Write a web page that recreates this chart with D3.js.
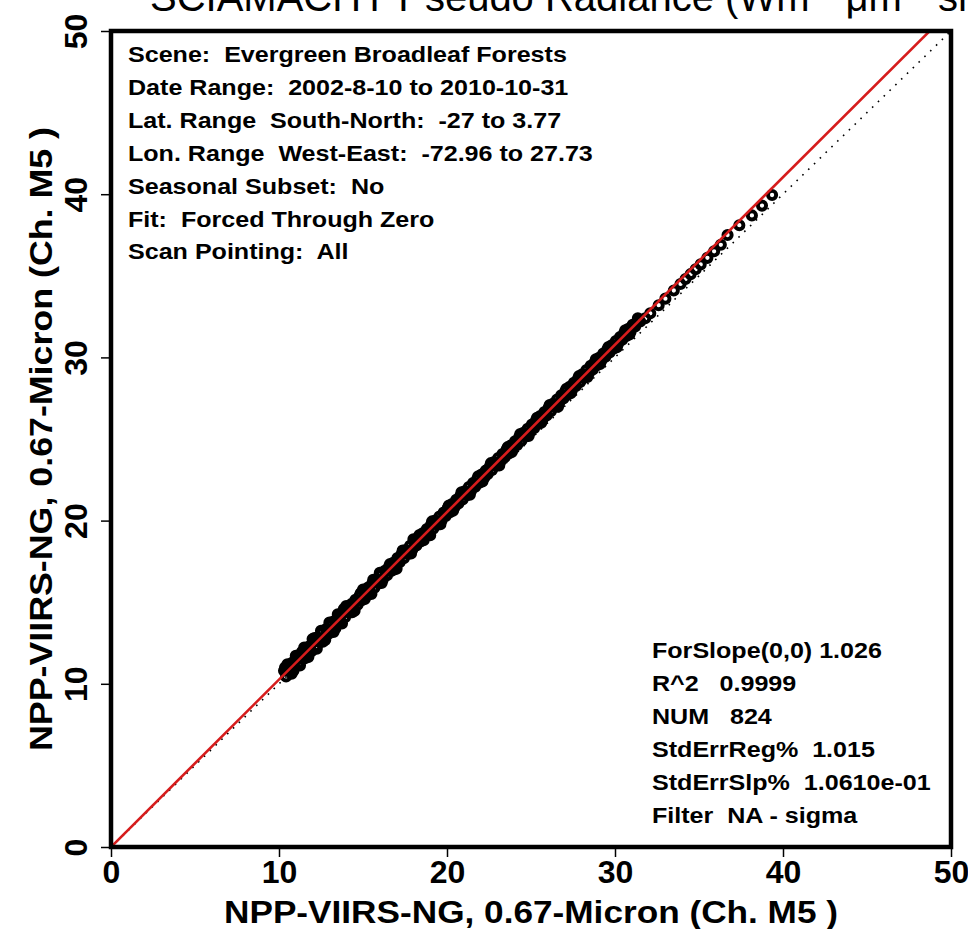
<!DOCTYPE html>
<html>
<head>
<meta charset="utf-8">
<script src="https://cdn.jsdelivr.net/npm/d3@7"></script>
<style>
  html, body { margin: 0; padding: 0; background: #fff; }
  svg { display: block; }
  text { font-family: "Liberation Sans", Arial, Helvetica, sans-serif; fill: #000; }
</style>
</head>
<body>
<div id="chart"></div>
<script>
// ---------------- data ----------------
const xTickValues = [0, 10, 20, 30, 40, 50];
const yTickValues = [0, 10, 20, 30, 40, 50];
const axisDomain = [0, 50];
const fitSlope = 1.026;
const xAxisTitle = "NPP-VIIRS-NG, 0.67-Micron (Ch.  M5 )";
const yAxisTitle = "NPP-VIIRS-NG, 0.67-Micron (Ch.  M5 )";
const infoLines = [
  "Scene:  Evergreen Broadleaf Forests",
  "Date Range:  2002-8-10 to 2010-10-31",
  "Lat. Range  South-North:  -27 to 3.77",
  "Lon. Range  West-East:  -72.96 to 27.73",
  "Seasonal Subset:  No",
  "Fit:  Forced Through Zero",
  "Scan Pointing:  All"
];
const statLines = [
  "ForSlope(0,0) 1.026",
  "R^2   0.9999",
  "NUM   824",
  "StdErrReg%  1.015",
  "StdErrSlp%  1.0610e-01",
  "Filter  NA - sigma"
];
// scatter points (x = reference, y = compared)
const pointsX = [
  10.30,10.42,10.55,10.68,10.80,10.93,11.05,11.18,11.30,11.43,11.55,11.68,11.80,11.93,
  12.05,12.18,12.30,12.43,12.55,12.68,12.80,12.93,13.05,13.18,13.30,13.43,13.55,13.68,
  13.80,13.93,14.05,14.18,14.30,14.43,14.55,14.68,14.80,14.93,15.05,15.18,15.30,15.43,
  15.55,15.68,15.80,15.93,16.05,16.18,16.30,16.43,16.55,16.68,16.80,16.93,17.05,17.18,
  17.30,17.43,17.55,17.68,17.80,17.93,18.05,18.18,18.30,18.43,18.55,18.68,18.80,18.93,
  19.05,19.18,19.30,19.43,19.55,19.68,19.80,19.93,20.05,20.18,20.30,20.43,20.55,20.68,
  20.80,20.93,21.05,21.18,21.30,21.43,21.55,21.68,21.80,21.93,22.05,22.18,22.30,22.43,
  22.55,22.68,22.80,22.93,23.05,23.18,23.30,23.43,23.55,23.68,23.80,23.93,24.05,24.18,
  24.30,24.43,24.55,24.68,24.80,24.93,25.05,25.18,25.30,25.43,25.55,25.68,25.80,25.93,
  26.05,26.18,26.30,26.43,26.55,26.68,26.80,26.93,27.05,27.18,27.30,27.43,27.55,27.68,
  27.80,27.93,28.05,28.18,28.30,28.43,28.55,28.68,28.80,28.93,29.05,29.18,29.30,29.43,
  29.55,29.68,29.80,29.93,30.05,30.18,30.30,30.43,30.55,30.68,30.80,30.93,31.05,31.20,
  31.35,31.50,
  10.36,10.61,10.86,11.11,11.36,11.61,11.86,12.11,12.36,12.61,12.86,13.11,13.36,13.61,
  13.86,14.11,14.36,14.61,14.86,15.11,15.36,15.61,15.86,16.11,16.36,16.61,16.86,17.11,
  17.36,17.61,17.86,18.11,18.36,18.61,18.86,19.11,19.36,19.61,19.86,20.11,20.36,20.61,
  20.86,21.11,21.36,21.61,21.86,22.11,22.36,22.61,22.86,23.11,23.36,23.61,23.86,24.11,
  24.36,24.61,24.86,25.11,25.36,25.61,25.86,26.11,26.36,26.61,26.86,27.11,27.36,27.61,
  27.86,28.11,28.36,28.61,28.86,29.11,29.36,29.61,29.86,30.11,30.36,30.61,30.86,31.11,
  31.36,
  10.50,10.75,11.00,11.25,11.50,11.75,12.00,12.25,12.50,12.75,13.00,13.25,13.50,13.75,
  14.00,14.50,15.00,15.50,16.00,17.00,18.00,19.00,
  31.80,32.10,32.60,33.00,33.50,33.90,34.20,34.50,34.80,35.10,35.50,35.90,36.30,
  36.70,37.40,38.15,38.75,39.35
];
const pointsY = [
  10.80,10.45,11.05,10.78,11.30,11.02,11.55,11.25,11.80,11.50,12.10,11.78,12.30,12.00,
  12.62,12.30,12.85,12.55,13.10,12.80,13.35,13.05,13.60,13.30,13.85,13.60,14.12,13.82,
  14.35,14.08,14.62,14.35,14.88,14.58,15.15,14.85,15.40,15.12,15.65,15.38,15.90,15.62,
  16.15,15.88,16.42,16.15,16.65,16.40,16.92,16.65,17.18,16.92,17.42,17.18,17.70,17.45,
  17.95,17.70,18.20,17.95,18.45,18.22,18.72,18.48,18.98,18.72,19.22,18.98,19.48,19.25,
  19.75,19.50,20.00,19.75,20.25,20.02,20.50,20.28,20.78,20.52,21.02,20.78,21.28,21.05,
  21.52,21.30,21.80,21.55,22.05,21.82,22.30,22.08,22.55,22.32,22.82,22.58,23.06,22.85,
  23.32,23.10,23.58,23.36,23.84,23.62,24.08,23.88,24.35,24.12,24.60,24.38,24.86,24.64,
  25.12,24.90,25.38,25.15,25.62,25.42,25.88,25.66,26.14,25.92,26.40,26.18,26.65,26.44,
  26.92,26.70,27.16,26.96,27.42,27.22,27.68,27.48,27.94,27.72,28.20,27.98,28.45,28.25,
  28.70,28.50,28.96,28.75,29.22,29.00,29.48,29.26,29.72,29.52,29.98,29.78,30.24,30.04,
  30.50,30.30,30.74,30.55,31.00,30.82,31.25,31.08,31.50,31.32,31.76,31.58,32.00,31.90,
  32.25,32.20,
  11.00,10.85,10.80,11.50,11.95,11.60,12.17,12.80,12.62,12.58,13.30,13.75,13.40,13.96,
  14.58,14.42,14.38,15.08,15.55,15.20,15.76,16.38,16.22,16.18,16.88,17.34,17.00,17.55,
  18.16,18.02,17.98,18.66,19.12,18.80,19.35,19.95,19.80,19.78,20.46,20.92,20.60,21.15,
  21.74,21.60,21.58,22.26,22.72,22.40,22.94,23.52,23.40,23.38,24.05,24.50,24.20,24.74,
  25.30,25.20,25.18,25.84,26.30,26.00,26.53,27.08,27.00,26.98,27.62,28.08,27.80,28.33,
  28.86,28.80,28.80,29.42,29.88,29.60,30.12,30.64,30.58,30.62,31.22,31.66,31.40,31.92,
  32.40,
  11.20,10.62,11.72,11.12,12.22,11.65,12.74,12.15,13.25,12.68,13.76,13.18,14.26,13.70,
  14.76,14.48,15.78,15.50,16.80,17.05,18.85,19.10,
  32.40,32.70,33.20,33.60,34.10,34.50,34.80,35.10,35.40,35.70,36.10,36.50,36.90,
  37.50,38.10,38.70,39.30,39.95
];
const points = pointsX.map((v, i) => ({ x: v, y: pointsY[i] }));

// ---------------- layout ----------------
const W = 968, H = 929;
const svg = d3.select("#chart").append("svg").attr("width", W).attr("height", H);

const x = d3.scaleLinear().domain(axisDomain).range([111, 951]);
const y = d3.scaleLinear().domain(axisDomain).range([847, 31]);

svg.append("defs").append("clipPath").attr("id", "plotclip")
  .append("rect")
  .attr("x", x(axisDomain[0])).attr("y", y(axisDomain[1]))
  .attr("width", x(axisDomain[1]) - x(axisDomain[0]))
  .attr("height", y(axisDomain[0]) - y(axisDomain[1]));

// title (mostly clipped by the top edge of the image, as in the original)
const title = svg.append("text")
  .attr("x", 150).attr("y", 11)
  .style("font-size", "40px");
title.append("tspan").text("SCIAMACHY Pseudo Radiance (Wm");
title.append("tspan").attr("dy", -14).style("font-size", "28px").text("-2");
title.append("tspan").attr("dy", 14).text(" \u03BCm");
title.append("tspan").attr("dy", -14).style("font-size", "28px").text("-1");
title.append("tspan").attr("dy", 14).text(" sr");
title.append("tspan").attr("dy", -14).style("font-size", "28px").text("-1");
title.append("tspan").attr("dy", 14).text(")");

const plot = svg.append("g").attr("clip-path", "url(#plotclip)");

// 1:1 dotted line
const line = d3.line().x(d => x(d[0])).y(d => y(d[1]));
plot.append("path")
  .datum(axisDomain.map(v => [v, v]))
  .attr("d", line)
  .attr("fill", "none")
  .attr("stroke", "#000")
  .attr("stroke-width", 1.6)
  .attr("stroke-dasharray", "1.6,6.5");

// points
plot.append("g").selectAll("circle")
  .data(points)
  .join("circle")
  .attr("cx", d => x(d.x))
  .attr("cy", d => y(d.y))
  .attr("r", 4.1)
  .attr("fill", "none")
  .attr("stroke", "#000")
  .attr("stroke-width", 3.9);

// forced-through-zero fit line
plot.append("path")
  .datum(axisDomain.map(v => [v, v * fitSlope]))
  .attr("d", line)
  .attr("fill", "none")
  .attr("stroke", "#d61c1c")
  .attr("stroke-width", 2.6);

// axes
const xAxis = svg.append("g").attr("transform", `translate(0,${y(0)})`)
  .call(d3.axisBottom(x).tickValues(xTickValues).tickSize(10).tickPadding(3).tickFormat(d3.format("d")));
xAxis.select(".domain").remove();
xAxis.selectAll(".tick line").attr("stroke", "#000").attr("stroke-width", 1.5);
xAxis.selectAll(".tick text")
  .style("font-size", "32px").style("font-weight", "bold");

const yAxis = svg.append("g").attr("transform", `translate(${x(0)},0)`)
  .call(d3.axisLeft(y).tickValues(yTickValues).tickSize(10).tickFormat(d3.format("d")));
yAxis.select(".domain").remove();
yAxis.selectAll(".tick line").attr("stroke", "#000").attr("stroke-width", 1.5);
yAxis.selectAll(".tick text")
  .attr("transform", "rotate(-90)")
  .attr("x", 0).attr("y", -24).attr("dy", 0)
  .attr("text-anchor", "middle")
  .style("font-size", "32px").style("font-weight", "bold");

// plot box
svg.append("rect")
  .attr("x", x(0)).attr("y", y(50))
  .attr("width", x(50) - x(0)).attr("height", y(0) - y(50))
  .attr("fill", "none").attr("stroke", "#000").attr("stroke-width", 4.5);

// axis titles
const midX = (x(0) + x(50)) / 2, midY = (y(0) + y(50)) / 2;
svg.append("text")
  .attr("x", midX).attr("y", 923)
  .attr("text-anchor", "middle")
  .attr("textLength", 614).attr("lengthAdjust", "spacingAndGlyphs")
  .style("font-size", "32px").style("font-weight", "bold")
  .text(xAxisTitle);
svg.append("text")
  .attr("transform", `translate(52,${midY}) rotate(-90)`)
  .attr("x", 0).attr("y", 0)
  .attr("text-anchor", "middle")
  .attr("textLength", 624).attr("lengthAdjust", "spacingAndGlyphs")
  .style("font-size", "32px").style("font-weight", "bold")
  .text(yAxisTitle);

// info text (top-left)
const infoBase = [62, 95, 128, 161, 194, 227, 259];
svg.append("g").selectAll("text")
  .data(infoLines)
  .join("text")
  .attr("transform", (d, i) => `translate(128,${infoBase[i]}) scale(1.14,1)`)
  .style("font-size", "22px").style("font-weight", "bold")
  .style("white-space", "pre")
  .text(d => d);

// statistics text (bottom-right)
const statBase = [658, 691, 724, 757, 790, 823];
svg.append("g").selectAll("text")
  .data(statLines)
  .join("text")
  .attr("transform", (d, i) => `translate(652,${statBase[i]}) scale(1.14,1)`)
  .style("font-size", "22px").style("font-weight", "bold")
  .style("white-space", "pre")
  .text(d => d);
</script>
</body>
</html>
